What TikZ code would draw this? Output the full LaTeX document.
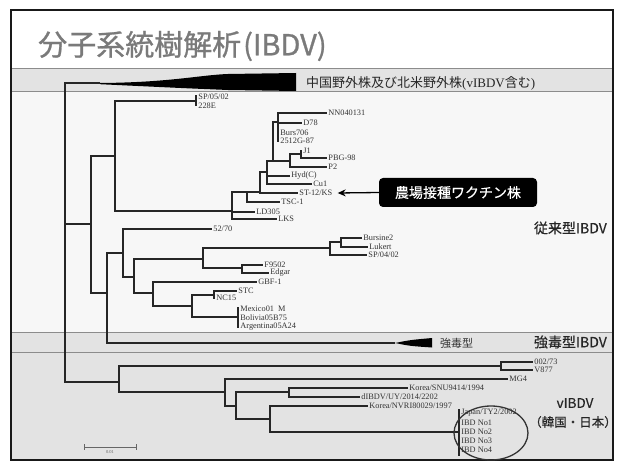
\documentclass[tikz,border=0pt]{standalone}
\usepackage{fontspec}
\setmainfont{Liberation Serif}
\newfontfamily\cjk{Noto Sans CJK JP}
\newfontfamily\cjkmed[FakeBold=0.9]{Noto Sans CJK JP}
\newfontfamily\cjklab[FakeBold=0.35]{Noto Sans CJK JP}
\usetikzlibrary{arrows.meta,shapes.geometric}
\begin{document}
\begin{tikzpicture}[x=1pt,y=-1pt,
  br/.style={line width=1.1pt, draw=black!85},
  lf/.style={anchor=west, inner sep=1.2pt, font=\fontsize{8.3}{8.3}\selectfont, text=black!80},
  barl/.style={line width=1.4pt, draw=black!85},
  bigj/.style={inner sep=0pt, font=\cjklab\fontsize{14}{14}\selectfont, text=black!85}]
\useasboundingbox (0,0) rectangle (624,465);
% backgrounds
\fill[white] (0,0) rectangle (624,465);
\fill[black!3] (11,92) rectangle (613,332);
\fill[black!11] (11,69) rectangle (613,92);
\fill[black!11] (11,332) rectangle (613,460);
\draw[black!45, line width=1pt] (11,69)--(613,69) (11,92)--(613,92) (11,332)--(613,332) (11,352)--(613,352);
\draw[black!90, line width=1.6pt] (11,10) rectangle (613,460);
% title
\node[anchor=west, inner sep=0pt, text=black!52, font=\cjkmed\fontsize{29}{29}\selectfont] (title) at (38,46) {分子系統樹解析\kern2pt(IBDV)};
% band labels
\node[anchor=west, inner sep=0pt, font=\fontsize{13}{13}\selectfont, text=black!85] (cnlab) at (306,83) {{\cjk 中国野外株及び北米野外株}(vIBDV{\cjk 含む})};
\node[anchor=west, inner sep=0pt, font=\cjk\fontsize{11}{11}\selectfont, text=black!80] (sslab) at (440,343) {強毒型};
\node[bigj, anchor=east] (conv) at (607,228) {従来型IBDV};
\node[bigj, anchor=east] (vir) at (607,342) {強毒型IBDV};
\node[bigj, font=\cjklab\fontsize{13.5}{13.5}\selectfont] (vib) at (575,403) {vIBDV};
\node[bigj, font=\cjklab\fontsize{12.5}{12.5}\selectfont] (kj) at (573,422) {（韓国・日本）};
% coordinates of tree nodes
\coordinate (R) at (65,224);
\coordinate (wA) at (100,83);
\coordinate (N91) at (91,224);
\coordinate (U1) at (115,156);
\coordinate (SPn) at (196,101);
\coordinate (A) at (232,211);
\coordinate (B) at (247,192);
\coordinate (C) at (260,192);
\coordinate (D) at (267,172);
\coordinate (F) at (273,161);
\coordinate (G) at (290,161);
\coordinate (H) at (301,154);
\coordinate (I) at (278,122);
\coordinate (S107) at (107,293);
\coordinate (sw) at (395,343);
\coordinate (T) at (123,253);
\coordinate (Q) at (134,277);
\coordinate (K) at (203,259);
\coordinate (L) at (330,248);
\coordinate (L2) at (341,242);
\coordinate (FE) at (242,268);
\coordinate (M) at (153,293);
\coordinate (N) at (192,306);
\coordinate (O) at (214,295);
\coordinate (Pb) at (238,317);
\coordinate (V1) at (119,382);
\coordinate (V2) at (501,366);
\coordinate (V3) at (225,392);
\coordinate (V4) at (236,406);
\coordinate (V5) at (289,392);
\coordinate (V6) at (270,419);
\coordinate (Jb) at (459,432);
% leaves
\coordinate (lLD) at (255,212);
\coordinate (lLKS) at (277,219);
\coordinate (lTSC) at (280,202);
\coordinate (lST) at (298,193);
\coordinate (lHyd) at (290,176);
\coordinate (lCu) at (312,184);
\coordinate (lP2) at (327,167);
\coordinate (lJ1) at (302,150.5);
\coordinate (lPBG) at (327,158);
\coordinate (lNN) at (327,113);
\coordinate (lD78) at (302,123);
\coordinate (lBurs) at (279,132.5);
\coordinate (l2512) at (279,141);
\coordinate (l5270) at (212,229);
\coordinate (lSP04) at (367,255);
\coordinate (lBur2) at (362,238);
\coordinate (lLuk) at (368,247);
\coordinate (lF95) at (263,265);
\coordinate (lEdg) at (269,273);
\coordinate (lGBF) at (257,282);
\coordinate (lSTC) at (237,291);
\coordinate (lNC) at (215,298);
\coordinate (l002) at (533,362);
\coordinate (lV877) at (533,370);
\coordinate (lMG4) at (508,379);
\coordinate (lSNU) at (408,388);
\coordinate (ldIB) at (360,397);
\coordinate (lNVRI) at (368,406);
% branches
\foreach \p/\c in {R/wA,R/N91,R/V1,N91/U1,N91/S107,U1/SPn,U1/A,A/B,A/lLD,A/lLKS,
  B/C,B/lTSC,C/D,C/lST,D/F,D/lHyd,D/lCu,F/I,F/G,G/H,G/lP2,H/lJ1,H/lPBG,
  I/lNN,I/lD78,I/lBurs,I/l2512,S107/T,S107/sw,T/l5270,T/Q,Q/K,Q/M,K/L,K/FE,
  L/L2,L/lSP04,L2/lBur2,L2/lLuk,FE/lF95,FE/lEdg,M/lGBF,M/N,N/O,N/Pb,O/lSTC,O/lNC,
  V1/V2,V1/V3,V2/l002,V2/lV877,V3/lMG4,V3/V4,V4/V5,V4/V6,V5/lSNU,V5/ldIB,V6/lNVRI,V6/Jb}
  \draw[br] (\p) |- (\c);
% bars
\draw[barl] (196,95.5) -- (196,106.5);
\draw[barl] (238,307) -- (238,328);
\draw[barl] (459,409) -- (459,456);
% wedges
\fill[black] (wA) .. controls (170,82.5) and (200,75) .. (228,74) -- (296,73) -- (296,91) -- (228,90) .. controls (180,88) .. (100,84.2) -- cycle;
\fill[black] (sw) .. controls (410,340) .. (432,338) -- (432,347.5) .. controls (410,346) .. (sw) -- cycle;
% leaf labels
\node[lf] (tSP1) at (197,97) {SP/05/02};
\node[lf] (t228) at (197,106) {228E};
\node[lf] at (lNN) (tNN) {NN040131};
\node[lf] at (lD78) (tD78) {D78};
\node[lf] at (lBurs) (tBurs) {Burs706};
\node[lf] at (l2512) (t2512) {2512G-87};
\node[lf] at (lJ1) (tJ1) {J1};
\node[lf] at (lPBG) (tPBG) {PBG-98};
\node[lf] at (lP2) (tP2) {P2};
\node[lf] at (lHyd) (tHyd) {Hyd(C)};
\node[lf] at (lCu) (tCu) {Cu1};
\node[lf] at (lST) (tST) {ST-12/KS};
\node[lf] at (lTSC) (tTSC) {TSC-1};
\node[lf] at (lLD) (tLD) {LD305};
\node[lf] at (lLKS) (tLKS) {LKS};
\node[lf] at (l5270) (t5270) {52/70};
\node[lf] at (lBur2) (tBur2) {Bursine2};
\node[lf] at (lLuk) (tLuk) {Lukert};
\node[lf] at (lSP04) (tSP04) {SP/04/02};
\node[lf] at (lF95) (tF95) {F9502};
\node[lf] at (lEdg) (tEdg) {Edgar};
\node[lf] at (lGBF) (tGBF) {GBF-1};
\node[lf] at (lSTC) (tSTC) {STC};
\node[lf] at (lNC) (tNC) {NC15};
\node[lf] (tMex) at (239,309) {Mexico01\ \ M};
\node[lf] (tBol) at (239,318) {Bolivia05B75};
\node[lf] (tArg) at (239,327) {Argentina05A24};
\node[lf] at (l002) (t002) {002/73};
\node[lf] at (lV877) (tV877) {V877};
\node[lf] at (lMG4) (tMG4) {MG4};
\node[lf] at (lSNU) (tSNU) {Korea/SNU9414/1994};
\node[lf] at (ldIB) (tdIB) {dIBDV/UY/2014/2202};
\node[lf] at (lNVRI) (tNVRI) {Korea/NVRI80029/1997};
\node[lf] (tJap) at (460,413) {Japan/TY2/2002};
\node[lf] (tNo1) at (460,423) {IBD No1};
\node[lf] (tNo2) at (460,432) {IBD No2};
\node[lf] (tNo3) at (460,441) {IBD No3};
\node[lf] (tNo4) at (460,450) {IBD No4};
% ellipse round Japanese strains
\node[draw=black!80, line width=1.3pt, ellipse, minimum width=74pt, minimum height=54pt, inner sep=0pt] (circ) at (491,433) {};
% vaccine box and arrow
\node[fill=black, rounded corners=4pt, text=white, font=\cjklab\fontsize{14}{14}\selectfont, minimum width=158pt, minimum height=29pt, inner sep=0pt] (vac) at (458,192.5) {農場接種ワクチン株};
\coordinate (tip) at ([xshift=4pt]tST.east);
\draw[line width=1.3pt, -{Stealth[length=8pt,width=7pt]}] (vac.west) -- (tip);
% scale bar
\coordinate (sb1) at (84,447);
\coordinate (sb2) at (137,447);
\draw[black!60, line width=0.6pt, |-|] (sb1) -- (sb2);
\node[inner sep=0pt, font=\fontsize{4.5}{4.5}\selectfont, text=black!60] (sbl) at (110,452) {0.01};
\end{tikzpicture}
\end{document}
